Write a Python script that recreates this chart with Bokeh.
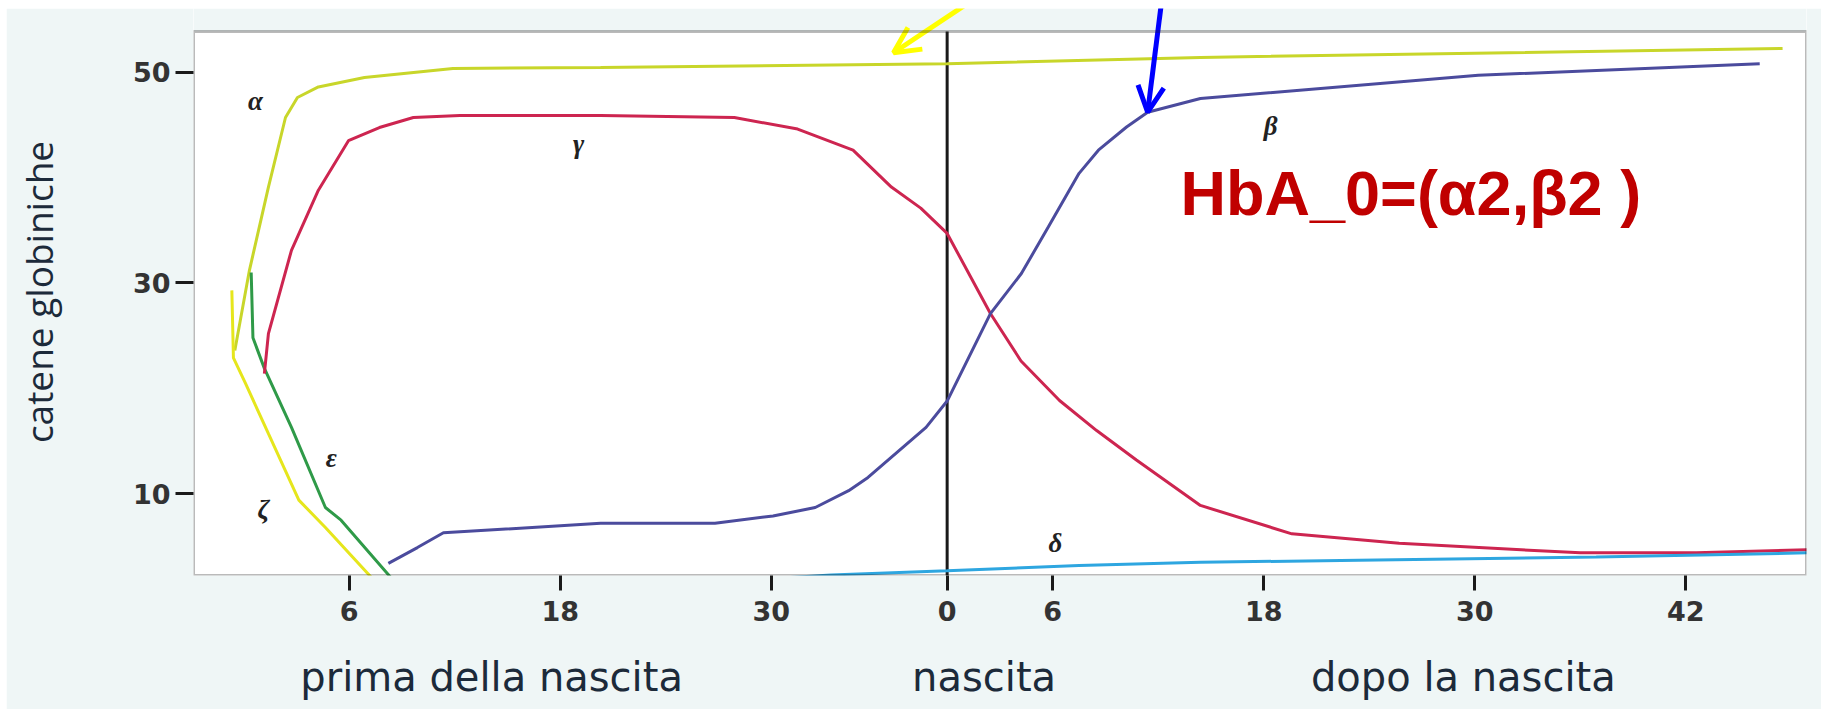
import numpy as np
from bokeh.plotting import figure
from bokeh.models import (ColumnDataSource, FixedTicker, LinearAxis, Arrow, BoxAnnotation,
                          OpenHead, Label, Range1d, Spacer)
from bokeh.layouts import column, row
from bokeh.core.properties import value
from bokeh.embed import file_html
from bokeh.resources import INLINE

# Timeline in weeks since conception; birth falls at week 40.
BIRTH_WEEK = 40

TICK_WEEKS = [6, 18, 30, 40, 46, 58, 70, 82]
TICK_LABELS = ["6", "18", "30", "0", "6", "18", "30", "42"]
Y_TICKS = [10, 30, 50]

PERIODS = ["prima della nascita", "nascita", "dopo la nascita"]
PERIOD_CENTERS = [14.1, 42.1, 69.35]

# Globin chain synthesis curves (weeks, % of chains)
ALPHA_WEEKS = [-0.5, 0.33, 1.41, 2.38, 3.06, 4.25, 6.87, 11.9, 20.3, 40, 54.4, 87.5]
ALPHA_VALUES = [23.6, 31.2, 39.1, 45.7, 47.6, 48.6, 49.5, 50.35, 50.45, 50.8, 51.4, 52.25]

ZETA_WEEKS = [-0.67, -0.58, 0.1, 1.41, 3.14, 4.65, 7.3]
ZETA_VALUES = [29.3, 22.9, 20.5, 15.7, 9.4, 6.8, 2.0]

EPSILON_WEEKS = [0.43, 0.53, 1.18, 2.72, 4.65, 5.54, 8.4]
EPSILON_VALUES = [31.0, 24.8, 21.9, 16.3, 8.7, 7.5, 2.0]

GAMMA_WEEKS = [1.18, 1.41, 2.72, 4.25, 5.96, 7.72, 9.65, 12.3, 20.3, 27.9, 31.5, 34.65,
               36.83, 38.5, 40, 42.46, 44.2, 46.39, 48.5, 50.76, 54.4, 59.6, 65.7, 76.0,
               82.6, 88.9]
GAMMA_VALUES = [21.4, 25.2, 33.1, 38.8, 43.5, 44.75, 45.7, 45.9, 45.9, 45.7, 44.6, 42.6,
                39.1, 37.1, 34.7, 27.1, 22.6, 18.85, 16.0, 13.2, 8.9, 6.2, 5.3, 4.4,
                4.4, 4.7]

BETA_WEEKS = [8.23, 9.88, 11.36, 20.3, 26.8, 30.1, 32.5, 34.4, 35.5, 38.8, 40,
              42.46, 44.22, 45.75, 47.5, 48.6, 50.2, 51.4, 54.4, 70.2, 86.2]
BETA_VALUES = [3.4, 4.9, 6.3, 7.2, 7.2, 7.9, 8.7, 10.3, 11.55, 16.3, 18.8,
               27.1, 30.9, 35.3, 40.4, 42.6, 44.8, 46.2, 47.5, 49.7, 50.8]

DELTA_WEEKS = [30.5, 33.4, 40, 47.5, 54.4, 63.4, 76.9, 88.9]
DELTA_VALUES = [2.0, 2.3, 2.7, 3.2, 3.5, 3.7, 4.0, 4.4]

# Greek chain names and where they sit
CHAIN_NAMES = ["α", "ζ", "ε", "γ", "β", "δ"]
CHAIN_NAME_WEEKS = [0.67, 1.13, 4.99, 19.04, 58.4, 46.16]
CHAIN_NAME_VALUES = [47.3, 8.6, 13.35, 43.2, 44.9, 5.38]

SERIES = [
    (ALPHA_WEEKS, ALPHA_VALUES, "#c8d62a"),
    (ZETA_WEEKS, ZETA_VALUES, "#e6e61c"),
    (EPSILON_WEEKS, EPSILON_VALUES, "#2f9a48"),
    (GAMMA_WEEKS, GAMMA_VALUES, "#cd2550"),
    (BETA_WEEKS, BETA_VALUES, "#4b4b9d"),
    (DELTA_WEEKS, DELTA_VALUES, "#2ea6e0"),
]

# Plot box limits; the frame runs a little higher so the arrows can enter from above
X_LO, X_HI = -2.85, 88.86
Y_LO, Y_BOX_TOP, Y_FRAME_TOP = 2.25, 53.86, 56.04

PANEL = "#eff6f6"
INK = "#1a1a1a"

p = figure(frame_width=1613, frame_height=567,
           x_range=Range1d(X_LO, X_HI), y_range=Range1d(Y_LO, Y_FRAME_TOP),
           min_border_left=187, min_border_top=0, min_border_right=15,
           min_border_bottom=134,
           output_backend="svg", toolbar_location=None,
           background_fill_color="white", border_fill_color=PANEL)
p.xgrid.visible = False
p.ygrid.visible = False
p.outline_line_color = None

# strip above the plot box keeps the panel colour
p.add_layout(BoxAnnotation(bottom=Y_BOX_TOP, fill_color=PANEL, fill_alpha=1,
                           line_color=None, level="underlay"))
# plot box
p.add_layout(BoxAnnotation(left=X_LO, right=X_HI, bottom=Y_LO, top=Y_BOX_TOP,
                           fill_alpha=0, line_color=INK, line_width=3, level="overlay"))

# birth marker
p.segment(x0=[BIRTH_WEEK], y0=[Y_LO], x1=[BIRTH_WEEK], y1=[Y_BOX_TOP],
          line_color=INK, line_width=3)

for xs, ys, col in SERIES:
    p.line(xs, ys, line_color=col, line_width=3)

p.text(x="x", y="y", text="t",
       source=ColumnDataSource(dict(x=CHAIN_NAME_WEEKS, y=CHAIN_NAME_VALUES, t=CHAIN_NAMES)),
       text_font=value("Liberation Serif"), text_font_style="bold italic",
       text_font_size="27px", text_align="center", text_baseline="middle",
       text_color="#222222")

# arrows pointing at the alpha and beta curves
yellow_tip_t = 36.95
yellow_tip_v = float(np.interp(yellow_tip_t, ALPHA_WEEKS, ALPHA_VALUES)) + 1.1
blue_tip_t = 51.4
blue_tip_v = float(np.interp(blue_tip_t, BETA_WEEKS, BETA_VALUES))
p.add_layout(Arrow(end=OpenHead(size=26, line_width=5, line_color="#ffff00"),
                   x_start=yellow_tip_t + 4.44, y_start=yellow_tip_v + 4.93,
                   x_end=yellow_tip_t, y_end=yellow_tip_v,
                   line_color="#ffff00", line_width=5))
p.add_layout(Arrow(end=OpenHead(size=26, line_width=5, line_color="#0000ff"),
                   x_start=blue_tip_t + 0.8, y_start=blue_tip_v + 10.6,
                   x_end=blue_tip_t, y_end=blue_tip_v,
                   line_color="#0000ff", line_width=5))

p.add_layout(Label(x=53.27, y=38.49, text="HbA_0=(α2,β2 )",
                   text_font="Liberation Sans", text_font_style="bold",
                   text_font_size="63px", text_color="#c00000",
                   text_baseline="alphabetic"))

# axes
xa = p.xaxis[0]
xa.ticker = FixedTicker(ticks=TICK_WEEKS)
xa.major_label_overrides = {k: v for k, v in zip(TICK_WEEKS, TICK_LABELS)}
ya = p.yaxis[0]
ya.ticker = FixedTicker(ticks=Y_TICKS)
ya.axis_label = "catene globiniche"

for ax, tick_out in ((xa, 15), (ya, 18)):
    ax.axis_line_color = None
    ax.major_tick_line_color = INK
    ax.major_tick_line_width = 3
    ax.major_tick_out = tick_out
    ax.major_tick_in = 0
    ax.minor_tick_line_color = None
    ax.major_label_text_font = "DejaVu Sans"
    ax.major_label_text_font_style = "bold"
    ax.major_label_text_font_size = "27px"
    ax.major_label_text_color = "#333333"
xa.major_label_standoff = 10
ya.major_label_standoff = 5
ya.axis_label_text_font = "Open Sans"
ya.axis_label_text_font_style = "normal"
ya.axis_label_text_font_size = "37px"
ya.axis_label_text_color = "#1c2a3a"
ya.axis_label_standoff = 66

period_axis = LinearAxis(ticker=FixedTicker(ticks=PERIOD_CENTERS),
                         major_label_overrides={k: v for k, v in zip(PERIOD_CENTERS, PERIODS)})
period_axis.axis_line_color = None
period_axis.major_tick_line_color = None
period_axis.minor_tick_line_color = None
period_axis.major_tick_out = 0
period_axis.major_tick_in = 0
period_axis.major_label_standoff = 30
period_axis.major_label_text_font = "DejaVu Sans"
period_axis.major_label_text_font_size = "40px"
period_axis.major_label_text_color = "#1c2a3a"
p.add_layout(period_axis, "below")

page = column(Spacer(width=1821, height=8),
              row(Spacer(width=6, height=701), p))

open("out.html", "w").write(file_html(page, INLINE))
